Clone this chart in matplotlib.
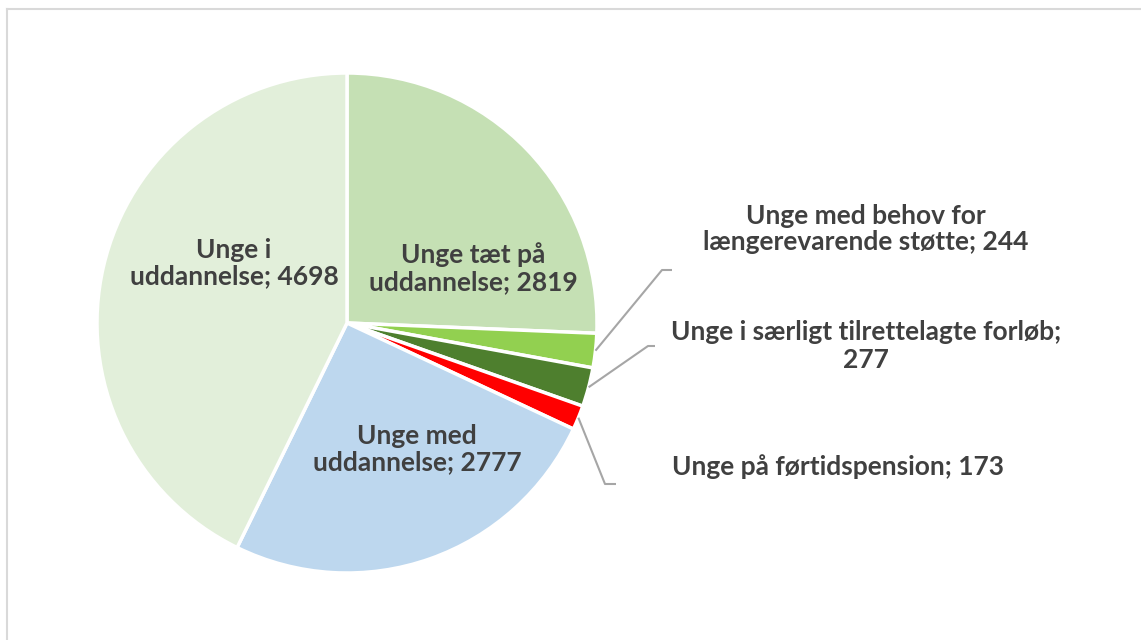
import matplotlib
matplotlib.use("Agg")
import matplotlib.pyplot as plt
import numpy as np
from matplotlib.lines import Line2D

categories = ["Unge tæt på\nuddannelse", "Unge med behov for\nlængerevarende støtte",
              "Unge i særligt tilrettelagte forløb;\n", "Unge på førtidspension",
              "Unge med\nuddannelse", "Unge i\nuddannelse"]
values = [2819, 244, 277, 173, 2777, 4698]
colors = ["#C5E0B4", "#92D050", "#4E7F2E", "#FF0000", "#BDD7EE", "#E2EFDA"]

W, H = 1141, 640
fig = plt.figure(figsize=(W / 100, H / 100), dpi=100)
ax = fig.add_axes([0, 0, 1, 1])

cx, cy, R = 347, H - 323, 250
wedges, _ = ax.pie(values, colors=colors, startangle=90, counterclock=False,
                   center=(cx, cy), radius=R, frame=True,
                   wedgeprops=dict(edgecolor="white", linewidth=2.5))
ax.set_xlim(0, W)
ax.set_ylim(0, H)
ax.axis("off")

font = dict(family=["Lato", "DejaVu Sans"], fontweight="bold", color="#404040",
            fontsize=19, ha="center", va="center", linespacing=1.15)

labels = [f"Unge tæt på\nuddannelse; {values[0]}",
          f"Unge med behov for\nlængerevarende støtte; {values[1]}",
          f"Unge i særligt tilrettelagte forløb;\n{values[2]}",
          f"Unge på førtidspension; {values[3]}",
          f"Unge med\nuddannelse; {values[4]}",
          f"Unge i\nuddannelse; {values[5]}"]
label_pos = [(473, 268), (866, 229), (866, 346), (838, 467), (417, 449), (234, 263)]
for txt, (x, y) in zip(labels, label_pos):
    ax.text(x, H - y, txt, **font)

# leader lines for small slices
elbows = {1: ((662, 270), (672, 270)), 2: ((648, 346), (655, 346)), 3: ((605, 484), (616, 484))}
for i, (elb, end) in elbows.items():
    w = wedges[i]
    ang = np.deg2rad((w.theta1 + w.theta2) / 2)
    sx, sy = cx + R * np.cos(ang), cy + R * np.sin(ang)
    ax.plot([sx, elb[0], end[0]], [sy, H - elb[1], H - end[1]], color="#A6A6A6", lw=1.5,
            solid_capstyle="butt")

# chart frame (partially visible)
fig.add_artist(Line2D([7 / W, 1], [1 - 9 / H, 1 - 9 / H], transform=fig.transFigure,
                      color="#D9D9D9", lw=1.5))
fig.add_artist(Line2D([7 / W, 7 / W], [0, 1 - 9 / H], transform=fig.transFigure,
                      color="#D9D9D9", lw=1.5))

fig.savefig("out.png", dpi=100, facecolor="white")
